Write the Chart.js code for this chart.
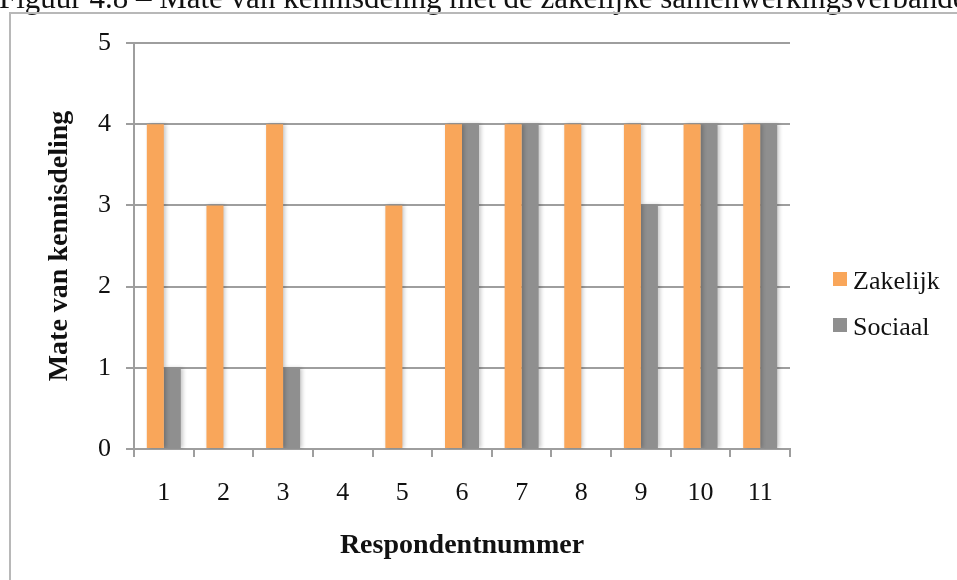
<!DOCTYPE html>
<html lang="nl">
<head>
<meta charset="utf-8">
<title>Mate van kennisdeling</title>
<script src="https://cdn.jsdelivr.net/npm/chart.js@4/dist/chart.umd.min.js"></script>
<style>
  html, body { margin: 0; padding: 0; background: #ffffff; }
  #wrap { position: relative; width: 957px; height: 580px; overflow: hidden; }
  canvas { display: block; }
</style>
</head>
<body>
<div id="wrap"><canvas id="chart" width="957" height="580"></canvas></div>
<script>
// Respondents and their reported level of knowledge sharing (0-5)
const respondenten = ['1', '2', '3', '4', '5', '6', '7', '8', '9', '10', '11'];
const zakelijk = [4, 3, 4, 0, 3, 4, 4, 4, 4, 4, 4];
const sociaal  = [1, 0, 1, 0, 0, 4, 4, 0, 3, 4, 4];
const yTicks = [0, 1, 2, 3, 4, 5];

const figuurTitel = 'Figuur 4.8 – Mate van kennisdeling met de zakelijke samenwerkingsverbanden';

const ORANJE = '#F9A65A';
const GRIJS = '#8F8F8F';
const LIJN = '#9E9E9E';
const SERIF = '"Liberation Serif", "Times New Roman", serif';

// Page frame, caption above it and soft shadow behind the bars
const decor = {
  id: 'decor',
  beforeDraw(chart) {
    const ctx = chart.ctx;
    ctx.save();
    ctx.fillStyle = '#ffffff';
    ctx.fillRect(0, 0, chart.width, chart.height);
    // caption line (partly cut off at the top of the page)
    ctx.fillStyle = '#111111';
    ctx.textBaseline = 'alphabetic';
    ctx.font = '31px ' + SERIF;
    ctx.fillText(figuurTitel, -1, 7.5);
    // frame
    ctx.strokeStyle = '#B8B8B8';
    ctx.lineWidth = 2;
    ctx.beginPath();
    ctx.moveTo(10, chart.height);
    ctx.lineTo(10, 13);
    ctx.lineTo(chart.width, 13);
    ctx.stroke();
    ctx.restore();
  },
  beforeDatasetsDraw(chart) {
    const ctx = chart.ctx;
    ctx.save();
    ctx.shadowColor = 'rgba(0,0,0,0.22)';
    ctx.shadowBlur = 4;
    ctx.shadowOffsetX = 2;
    ctx.shadowOffsetY = 0;
  },
  afterDatasetsDraw(chart) {
    chart.ctx.restore();
  },
  afterDraw(chart) {
    // legend on the right
    const ctx = chart.ctx;
    const items = chart.data.datasets;
    const baseX = 833;
    const baselines = [289, 335];
    ctx.save();
    ctx.font = '26px ' + SERIF;
    ctx.textBaseline = 'alphabetic';
    items.forEach((ds, i) => {
      const by = baselines[i];
      ctx.fillStyle = ds.backgroundColor;
      ctx.fillRect(baseX, by - 17, 14, 14);
      ctx.fillStyle = '#111111';
      ctx.fillText(ds.label, baseX + 20, by);
    });
    ctx.restore();
  }
};

new Chart(document.getElementById('chart'), {
  type: 'bar',
  data: {
    labels: respondenten,
    datasets: [
      { label: 'Zakelijk', data: zakelijk, backgroundColor: ORANJE, borderWidth: 0 },
      { label: 'Sociaal', data: sociaal, backgroundColor: GRIJS, borderWidth: 0 }
    ]
  },
  options: {
    responsive: false,
    animation: false,
    devicePixelRatio: 1,
    layout: { padding: { left: 0, top: 43, right: 167, bottom: 0 } },
    datasets: { bar: { barPercentage: 1.0, categoryPercentage: 0.57 } },
    plugins: {
      legend: { display: false },
      tooltip: { enabled: false },
      title: { display: false }
    },
    scales: {
      x: {
        grid: {
          offset: true,
          drawOnChartArea: false,
          drawTicks: true,
          tickLength: 8,
          color: LIJN,
          lineWidth: 2
        },
        border: { display: true, color: LIJN, width: 2 },
        ticks: {
          color: '#111111',
          font: { family: SERIF, size: 26 },
          padding: 21,
          maxRotation: 0
        },
        title: {
          display: true,
          text: 'Respondentnummer',
          color: '#111111',
          font: { family: SERIF, size: 28, weight: 'bold' },
          padding: { top: 0, bottom: 17 }
        },
        afterFit(scale) { scale.height = 131; }
      },
      y: {
        min: 0,
        max: 5,
        afterBuildTicks(scale) { scale.ticks = yTicks.map(v => ({ value: v })); },
        grid: {
          drawTicks: true,
          tickLength: 8,
          color: LIJN,
          lineWidth: 2
        },
        border: { display: true, color: LIJN, width: 2 },
        ticks: {
          color: '#111111',
          font: { family: SERIF, size: 26 },
          padding: 15
        },
        title: {
          display: true,
          text: 'Mate van kennisdeling',
          color: '#111111',
          font: { family: SERIF, size: 28, weight: 'bold' },
          padding: { top: 43, bottom: 0 }
        },
        afterFit(scale) { scale.width = 134; }
      }
    }
  },
  plugins: [decor]
});
</script>
</body>
</html>
